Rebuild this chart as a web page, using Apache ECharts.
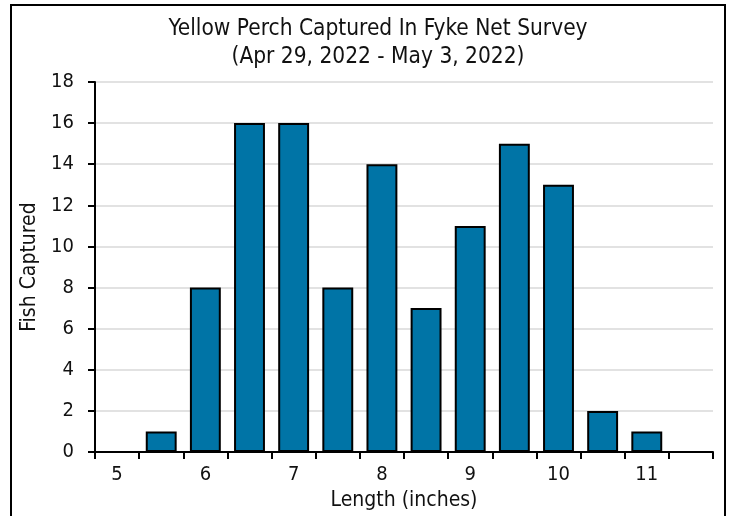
<!DOCTYPE html>
<html><head><meta charset="utf-8">
<script src="https://cdn.jsdelivr.net/npm/echarts@6/dist/echarts.min.js"></script>
<style>html,body{margin:0;padding:0;background:#fff}#c{width:731px;height:516px}</style>
</head><body><div id="c"></div>
<script>
const lengths = ['5','5.5','6','6.5','7','7.5','8','8.5','9','9.5','10','10.5','11','11.5'];
const fishCaptured = [0,1,8,16,16,8,14,7,11,15,13,2,1,0];
const yTicks = [0,2,4,6,8,10,12,14,16,18];
const FONT = '"Liberation Sans Narrow","DejaVu Sans Condensed","Noto Sans",sans-serif';
const chart = echarts.init(document.getElementById('c'), null, {renderer:'canvas'});
chart.setOption({
  animation:false,
  backgroundColor:'#fff',
  title:{text:'Yellow Perch Captured In Fyke Net Survey\n(Apr 29, 2022 - May 3, 2022)',left:373,textAlign:'center',top:10,
    textStyle:{fontFamily:FONT,fontSize:22.5,fontWeight:'normal',color:'#111',lineHeight:28}},
  graphic:[{type:'rect',shape:{x:11,y:5,width:714,height:530},style:{fill:'none',stroke:'#000',lineWidth:2},z:100}],
  grid:{left:95,right:18,top:82,bottom:64,containLabel:false},
  xAxis:{type:'category',data:lengths,name:'Length (inches)',nameLocation:'middle',nameGap:37,
    nameTextStyle:{fontFamily:FONT,fontSize:21,color:'#111'},
    axisLine:{lineStyle:{color:'#000',width:2}},
    axisTick:{show:true,interval:0,length:7,lineStyle:{color:'#000',width:2}},
    axisLabel:{interval:0,fontFamily:FONT,fontSize:20,color:'#111',margin:13,
      formatter:v=>(Number(v)%1===0?v:'')}},
  yAxis:{type:'value',min:yTicks[0],max:yTicks[yTicks.length-1],interval:2,name:'Fish Captured',nameLocation:'middle',nameGap:54,
    nameTextStyle:{fontFamily:FONT,fontSize:21,color:'#111'},
    axisLine:{show:true,lineStyle:{color:'#000',width:2}},
    axisTick:{show:true,length:7,lineStyle:{color:'#000',width:2}},
    axisLabel:{fontFamily:FONT,fontSize:20,color:'#111',margin:21},
    splitLine:{lineStyle:{color:'#d9d9d9',width:1.5}}},
  series:[{type:'bar',data:fishCaptured,barCategoryGap:'30%',
    itemStyle:{color:'#0074a6',borderColor:'#000',borderWidth:2}}]
});
</script></body></html>
